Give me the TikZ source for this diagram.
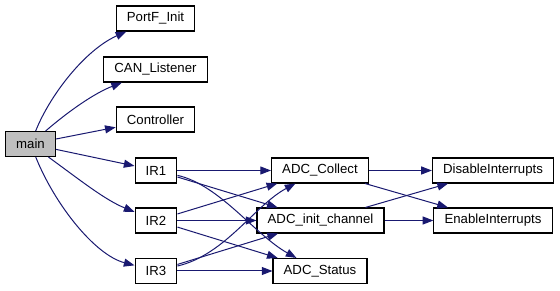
\documentclass[tikz,border=0pt]{standalone}
\usepackage{fontspec}
\setmainfont{Liberation Sans}
\usetikzlibrary{arrows.meta}
\definecolor{midnightblue}{RGB}{25,25,112}

\begin{document}
\begin{tikzpicture}[x=0.75pt,y=-0.75pt]
\tikzstyle{fn} = [draw,line width=0.8pt,rectangle,inner xsep=8pt,inner ysep=0pt,
  minimum height=18.75pt,font=\fontsize{9.9}{11}\selectfont]
\tikzstyle{call} = [midnightblue,line width=0.75pt,-{Triangle[length=8pt,width=6pt]}]

\useasboundingbox (0,0) rectangle (560,291);

% caller and callees, pixel positions
\node[fn,fill={rgb,255:red,191;green,191;blue,191}] (main) at (30.5,144) {main};
\node[fn] (portf) at (155.5,18.5) {PortF\_Init};
\node[fn] (can) at (155.5,69.5) {CAN\_Listener};
\node[fn] (ctrl) at (155.5,119.5) {Controller};
\node[fn] (ir1) at (156,170.5) {IR1};
\node[fn] (ir2) at (156,220.5) {IR2};
\node[fn] (ir3) at (156,271) {IR3};
\node[fn] (collect) at (320,170.5) {ADC\_Collect};
\node[fn] (init) at (320.5,220.5) {ADC\_init\_channel};
\node[fn] (status) at (320,271) {ADC\_Status};
\node[fn] (disable) at (493,170.5) {DisableInterrupts};
\node[fn] (enable) at (493,220.5) {EnableInterrupts};

% main
\draw[call] (main) .. controls (50,95) and (85,50) .. (portf);
\draw[call] (main) .. controls (70,110) and (95,93) .. (can);
\draw[call] (main) -- (ctrl);
\draw[call] (main) -- (ir1);
\draw[call] (main) .. controls (80,180) and (105,200) .. (ir2);
\draw[call] (main) .. controls (55,205) and (95,255) .. (ir3);

% IR1..IR3
\draw[call] (ir1) -- (collect);
\draw[call] (ir1) -- (init);
\draw[call] (ir1) .. controls (220,185) and (255,235) .. (status);
\draw[call] (ir2) -- (collect);
\draw[call] (ir2) -- (init);
\draw[call] (ir2) -- (status);
\draw[call] (ir3) .. controls (225,255) and (255,205) .. (collect);
\draw[call] (ir3) -- (init);
\draw[call] (ir3) -- (status);

% ADC
\draw[call] (collect) -- (disable);
\draw[call] (collect) -- (enable);
\draw[call] (init) -- (disable);
\draw[call] (init) -- (enable);

\end{tikzpicture}
\end{document}
